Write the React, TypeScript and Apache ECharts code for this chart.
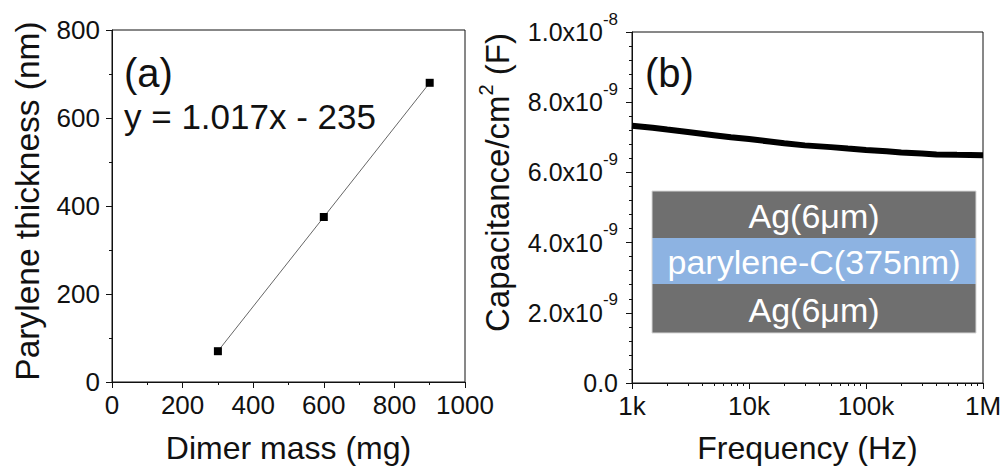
import React, { useEffect, useRef } from 'react';
import * as echarts from 'echarts';

// Panel (a): parylene thickness vs dimer mass
const dimerMass = [300, 600, 900];
const thicknessNm = [70, 375, 680];
const fitEquation = 'y = 1.017x - 235';

// Panel (b): capacitance per cm^2 (in units of 1e-9 F) vs frequency
const frequencyHz = [1000, 1500, 2000, 3000, 5000, 7000, 10000, 15000, 20000, 30000, 50000, 70000, 100000, 150000, 200000, 300000, 400000, 600000, 1000000];
const capacitanceNF = [7.33, 7.27, 7.22, 7.15, 7.06, 7.0, 6.95, 6.88, 6.83, 6.77, 6.72, 6.68, 6.64, 6.6, 6.57, 6.54, 6.51, 6.5, 6.49];

const freqTickLabels = ['1k', '10k', '100k', '1M'];
const capTickValues = [0, 2, 4, 6, 8, 10];
const capTickMantissa = ['0.0', '2.0', '4.0', '6.0', '8.0', '1.0'];
const capTickExponent = ['', '-9', '-9', '-9', '-9', '-8'];

const insetLayers = [
  { label: 'Ag(6μm)', color: '#6f6f6f' },
  { label: 'parylene-C(375nm)', color: '#8db3e2' },
  { label: 'Ag(6μm)', color: '#6f6f6f' },
];

const FONT = '"Liberation Sans", Arial, sans-serif';
const INK = '#111';

export default function App() {
  const ref = useRef<HTMLDivElement>(null);
  useEffect(() => {
    if (!ref.current) return;
    const chart = echarts.init(ref.current, undefined, { renderer: 'svg' });

    const axisCommon = {
      axisLine: { show: true, lineStyle: { color: INK, width: 1 } },
      axisTick: { show: true, length: 6, lineStyle: { color: INK, width: 1 } },
      minorTick: { show: true, length: 3, lineStyle: { color: INK, width: 1 } },
      splitLine: { show: false },
      minorSplitLine: { show: false },
      nameLocation: 'middle' as const,
    };

    const insetX = 652, insetW = 324;
    const bandTops = [191, 238, 284];
    const bandHeights = [47, 46, 49];
    const insetGraphics: any[] = [];
    insetLayers.forEach((layer, i) => {
      insetGraphics.push({
        type: 'rect',
        shape: { x: insetX, y: bandTops[i], width: insetW, height: bandHeights[i] },
        style: { fill: layer.color },
        z: 10,
      });
      insetGraphics.push({
        type: 'text',
        x: insetX + insetW / 2,
        y: bandTops[i] + bandHeights[i] / 2 + 1,
        style: { text: layer.label, fill: '#fff', font: `34px ${FONT}`, align: 'center', verticalAlign: 'middle' },
        z: 11,
      });
    });
    insetGraphics.push({
      type: 'rect',
      shape: { x: insetX, y: bandTops[0], width: insetW, height: bandTops[2] + bandHeights[2] - bandTops[0] },
      style: { fill: 'none', stroke: '#d8d8d8', lineWidth: 1 },
      z: 12,
    });

    chart.setOption({
      animation: false,
      backgroundColor: '#fff',
      textStyle: { fontFamily: FONT, color: INK },
      grid: [
        { left: 112, top: 30, width: 353, height: 352, show: true, borderColor: INK, borderWidth: 1, backgroundColor: 'transparent', containLabel: false, outerBoundsMode: 'none' },
        { left: 632, top: 32, width: 351, height: 351, show: true, borderColor: INK, borderWidth: 1, backgroundColor: 'transparent', containLabel: false, outerBoundsMode: 'none' },
      ],
      xAxis: [
        {
          ...axisCommon,
          gridIndex: 0,
          type: 'value',
          min: 0,
          max: 1000,
          interval: 200,
          minorTick: { ...axisCommon.minorTick, splitNumber: 2 },
          axisLabel: { fontSize: 26, color: INK, margin: 10, fontFamily: FONT, formatter: (v: number) => String(v) },
          name: 'Dimer mass (mg)',
          nameGap: 50,
          nameTextStyle: { fontSize: 32, color: INK, fontFamily: FONT },
        },
        {
          ...axisCommon,
          gridIndex: 1,
          type: 'log',
          logBase: 10,
          min: 1000,
          max: 1000000,
          minorTick: { ...axisCommon.minorTick, splitNumber: 9 },
          axisLabel: {
            fontSize: 26,
            color: INK,
            margin: 10,
            fontFamily: FONT,
            formatter: (v: number) => freqTickLabels[Math.round(Math.log10(v)) - 3] ?? '',
          },
          name: 'Frequency (Hz)',
          nameGap: 49,
          nameTextStyle: { fontSize: 32, color: INK, fontFamily: FONT },
        },
      ],
      yAxis: [
        {
          ...axisCommon,
          gridIndex: 0,
          type: 'value',
          min: 0,
          max: 800,
          interval: 200,
          minorTick: { ...axisCommon.minorTick, splitNumber: 2 },
          axisLabel: { fontSize: 26, color: INK, margin: 12, fontFamily: FONT },
          name: 'Parylene thickness (nm)',
          nameGap: 68,
          nameTextStyle: { fontSize: 33.5, color: INK, fontFamily: FONT, padding: [0, 0, 0, 10] },
        },
        {
          ...axisCommon,
          gridIndex: 1,
          type: 'value',
          min: 0,
          max: 10,
          interval: 2,
          minorTick: { ...axisCommon.minorTick, splitNumber: 5 },
          axisLabel: {
            margin: 14,
            formatter: (v: number) => {
              const i = capTickValues.indexOf(Math.round(v));
              if (i < 0) return '';
              return capTickExponent[i]
                ? `{m|${capTickMantissa[i]}x10}{s|${capTickExponent[i]}}`
                : `{m|${capTickMantissa[i]}}`;
            },
            rich: {
              m: { fontSize: 25, color: INK, fontFamily: FONT, verticalAlign: 'middle' },
              s: { fontSize: 17, color: INK, fontFamily: FONT, verticalAlign: 'bottom', padding: [0, 0, 26, 0] },
            },
          },
          name: 'Capacitance/cm{s|2} (F)',
          nameGap: 114,
          nameTextStyle: {
            padding: [0, 0, 0, 50],
            rich: {
              n: { fontSize: 33, color: INK, fontFamily: FONT },
              s: { fontSize: 20, color: INK, fontFamily: FONT, verticalAlign: 'bottom', padding: [0, 0, 22, 0] },
            },
            fontSize: 33,
            color: INK,
            fontFamily: FONT,
          },
        },
      ],
      series: [
        {
          type: 'line',
          xAxisIndex: 0,
          yAxisIndex: 0,
          data: dimerMass.map((m, i) => [m, thicknessNm[i]]),
          symbol: 'rect',
          symbolSize: 8,
          itemStyle: { color: '#000' },
          lineStyle: { color: '#666', width: 1 },
          z: 3,
        },
        {
          type: 'line',
          xAxisIndex: 1,
          yAxisIndex: 1,
          data: frequencyHz.map((f, i) => [f, capacitanceNF[i]]),
          showSymbol: false,
          symbol: 'none',
          lineStyle: { color: '#000', width: 6 },
          z: 3,
        },
      ],
      graphic: [
        {
          type: 'text',
          x: 124,
          y: 53,
          style: { text: '(a)', font: `40px ${FONT}`, fill: INK, verticalAlign: 'top' },
        },
        {
          type: 'text',
          x: 124,
          y: 99,
          style: { text: fitEquation, font: `35px ${FONT}`, fill: INK, verticalAlign: 'top' },
        },
        {
          type: 'text',
          x: 645,
          y: 53,
          style: { text: '(b)', font: `40px ${FONT}`, fill: INK, verticalAlign: 'top' },
        },
        ...insetGraphics,
      ],
    });
    return () => chart.dispose();
  }, []);
  return <div ref={ref} style={{ position: 'fixed', left: 0, top: 0, width: 1005, height: 470 }} />;
}
